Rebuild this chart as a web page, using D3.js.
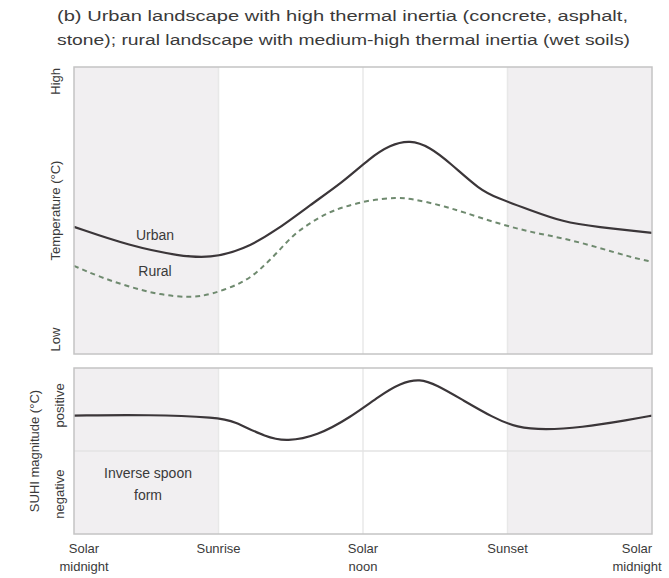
<!DOCTYPE html>
<html>
<head>
<meta charset="utf-8">
<script src="https://cdn.jsdelivr.net/npm/d3@7"></script>
<style>
  body { margin: 0; background: #fff; }
  text { font-family: "Liberation Sans", Arial, sans-serif; fill: #3a3a3a; }
</style>
</head>
<body>
<svg id="chart" width="669" height="578"></svg>
<script>
// hours after solar midnight, relative temperature (0 = low, 100 = high)
var urbanHours = [0, 2.33, 4.4, 5.65, 7.02, 8.43, 9.8, 11.17, 12.29, 13.12, 13.95, 14.78, 15.61, 16.86, 17.56, 18.93, 20.3, 21.7, 24];
var urban = [44.3, 37.6, 34.1, 33.4, 36.2, 43.2, 51.9, 59.9, 68.3, 72.8, 74.6, 72.1, 66.6, 57.1, 54.4, 50.2, 46, 44.3, 42.2];
var ruralHours = [0, 1.08, 2.33, 3.57, 4.82, 5.65, 7.02, 7.72, 8.43, 9.09, 9.8, 10.5, 11.17, 12.29, 13.41, 14.08, 15.2, 16.15, 17.56, 18.93, 20.3, 21.7, 23.09, 24];
var rural = [30.7, 26.8, 23.3, 20.6, 19.6, 20.6, 24.7, 29.3, 35.2, 41.5, 45.6, 49.1, 51.2, 53.7, 54.6, 54, 51.9, 49.5, 45.6, 42.5, 40.4, 37.3, 33.8, 32.1];
// SUHI magnitude (0 = zero line, + positive)
var suhiHours = [0, 3.16, 6, 6.6, 8.01, 8.84, 10.09, 11.46, 12.71, 13.54, 14.37, 15.07, 16.03, 17.4, 18.4, 19.56, 21, 23.09, 24];
var suhi = [42.7, 43.9, 40.2, 36.6, 15.9, 11.6, 18.3, 40.2, 67, 81.7, 87.4, 79.3, 63.4, 40.2, 28, 25.4, 28, 37.8, 42.7];

var tickHours = [0, 6, 12, 18, 24];
var tickLabels = [["Solar", "midnight"], ["Sunrise"], ["Solar", "noon"], ["Sunset"], ["Solar", "midnight"]];
var nights = [[0, 6], [18, 24]];

var svg = d3.select("#chart");
var left = 74, right = 652;
var top1 = 67, bot1 = 354, top2 = 368, bot2 = 534;

var x = d3.scaleLinear().domain([0, 24]).range([left, right]);
var yT = d3.scaleLinear().domain([0, 100]).range([bot1, top1]);
var yS = d3.scaleLinear().domain([-100, 100]).range([bot2, top2]);

// title
svg.append("text").attr("x", 57).attr("y", 21).attr("font-size", "14px")
  .attr("textLength", 571).attr("lengthAdjust", "spacingAndGlyphs")
  .text("(b)  Urban landscape with high thermal inertia (concrete, asphalt,");
svg.append("text").attr("x", 57).attr("y", 45).attr("font-size", "14px")
  .attr("textLength", 573).attr("lengthAdjust", "spacingAndGlyphs")
  .text("stone); rural landscape with medium-high thermal inertia (wet soils)");

function panel(t, b) {
  var g = svg.append("g");
  g.selectAll("rect.night").data(nights).enter().append("rect")
    .attr("x", function(d) { return x(d[0]); })
    .attr("width", function(d) { return x(d[1]) - x(d[0]); })
    .attr("y", t).attr("height", b - t)
    .attr("fill", "#f1eff1");
  g.selectAll("line.grid").data(tickHours.slice(1, 4)).enter().append("line")
    .attr("x1", function(d) { return x(d); }).attr("x2", function(d) { return x(d); })
    .attr("y1", t).attr("y2", b)
    .attr("stroke", "#e8e8e8").attr("stroke-width", 1.5);
  return g;
}

var p1 = panel(top1, bot1);
var p2 = panel(top2, bot2);

// zero line for SUHI
p2.append("line").attr("x1", left).attr("x2", right)
  .attr("y1", yS(0)).attr("y2", yS(0))
  .attr("stroke", "#e3e3e3").attr("stroke-width", 1.5);

var lineT = d3.line().curve(d3.curveBasis)
  .x(function(d) { return x(d[0]); }).y(function(d) { return yT(d[1]); });
var lineS = d3.line().curve(d3.curveBasis)
  .x(function(d) { return x(d[0]); }).y(function(d) { return yS(d[1]); });

p1.append("path").datum(d3.zip(ruralHours, rural)).attr("d", lineT)
  .attr("fill", "none").attr("stroke", "#6f8a6f").attr("stroke-width", 2)
  .attr("stroke-dasharray", "5,4");
p1.append("path").datum(d3.zip(urbanHours, urban)).attr("d", lineT)
  .attr("fill", "none").attr("stroke", "#3b3639").attr("stroke-width", 2.2);

p2.append("path").datum(d3.zip(suhiHours, suhi)).attr("d", lineS)
  .attr("fill", "none").attr("stroke", "#3b3639").attr("stroke-width", 2.2);

// frames
[[top1, bot1], [top2, bot2]].forEach(function(p) {
  svg.append("rect").attr("x", left).attr("y", p[0])
    .attr("width", right - left).attr("height", p[1] - p[0])
    .attr("fill", "none").attr("stroke", "#c4c4c4").attr("stroke-width", 1.5);
});

// curve labels
svg.append("text").attr("x", 155).attr("y", 240).attr("text-anchor", "middle")
  .attr("font-size", "14px").text("Urban");
svg.append("text").attr("x", 155).attr("y", 276).attr("text-anchor", "middle")
  .attr("font-size", "14px").text("Rural");
svg.append("text").attr("x", 148).attr("y", 478).attr("text-anchor", "middle")
  .attr("font-size", "14px").text("Inverse spoon");
svg.append("text").attr("x", 148).attr("y", 500).attr("text-anchor", "middle")
  .attr("font-size", "14px").text("form");

// y labels
function vlabel(tx, ty, s) {
  svg.append("text").attr("transform", "translate(" + tx + "," + ty + ") rotate(-90)")
    .attr("text-anchor", "middle").attr("font-size", "13px").text(s);
}
vlabel(60, yT(95), "High");
vlabel(60, yT(50), "Temperature (\u00b0C)");
vlabel(60, yT(5), "Low");
vlabel(39, (top2 + bot2) / 2, "SUHI magnitude (\u00b0C)");
vlabel(64, yS(55), "positive");
vlabel(64, yS(-52), "negative");

// x labels
var xl = svg.selectAll("text.xl").data(tickHours).enter().append("text")
  .attr("class", "xl").attr("text-anchor", "middle").attr("font-size", "13px")
  .attr("transform", function(d) {
    return "translate(" + Math.max(84, Math.min(637, x(d))) + ",553)";
  });
xl.selectAll("tspan").data(function(d, i) { return tickLabels[i]; }).enter().append("tspan")
  .attr("x", 0).attr("dy", function(d, i) { return i === 0 ? 0 : 18; })
  .text(function(d) { return d; });
</script>
</body>
</html>
